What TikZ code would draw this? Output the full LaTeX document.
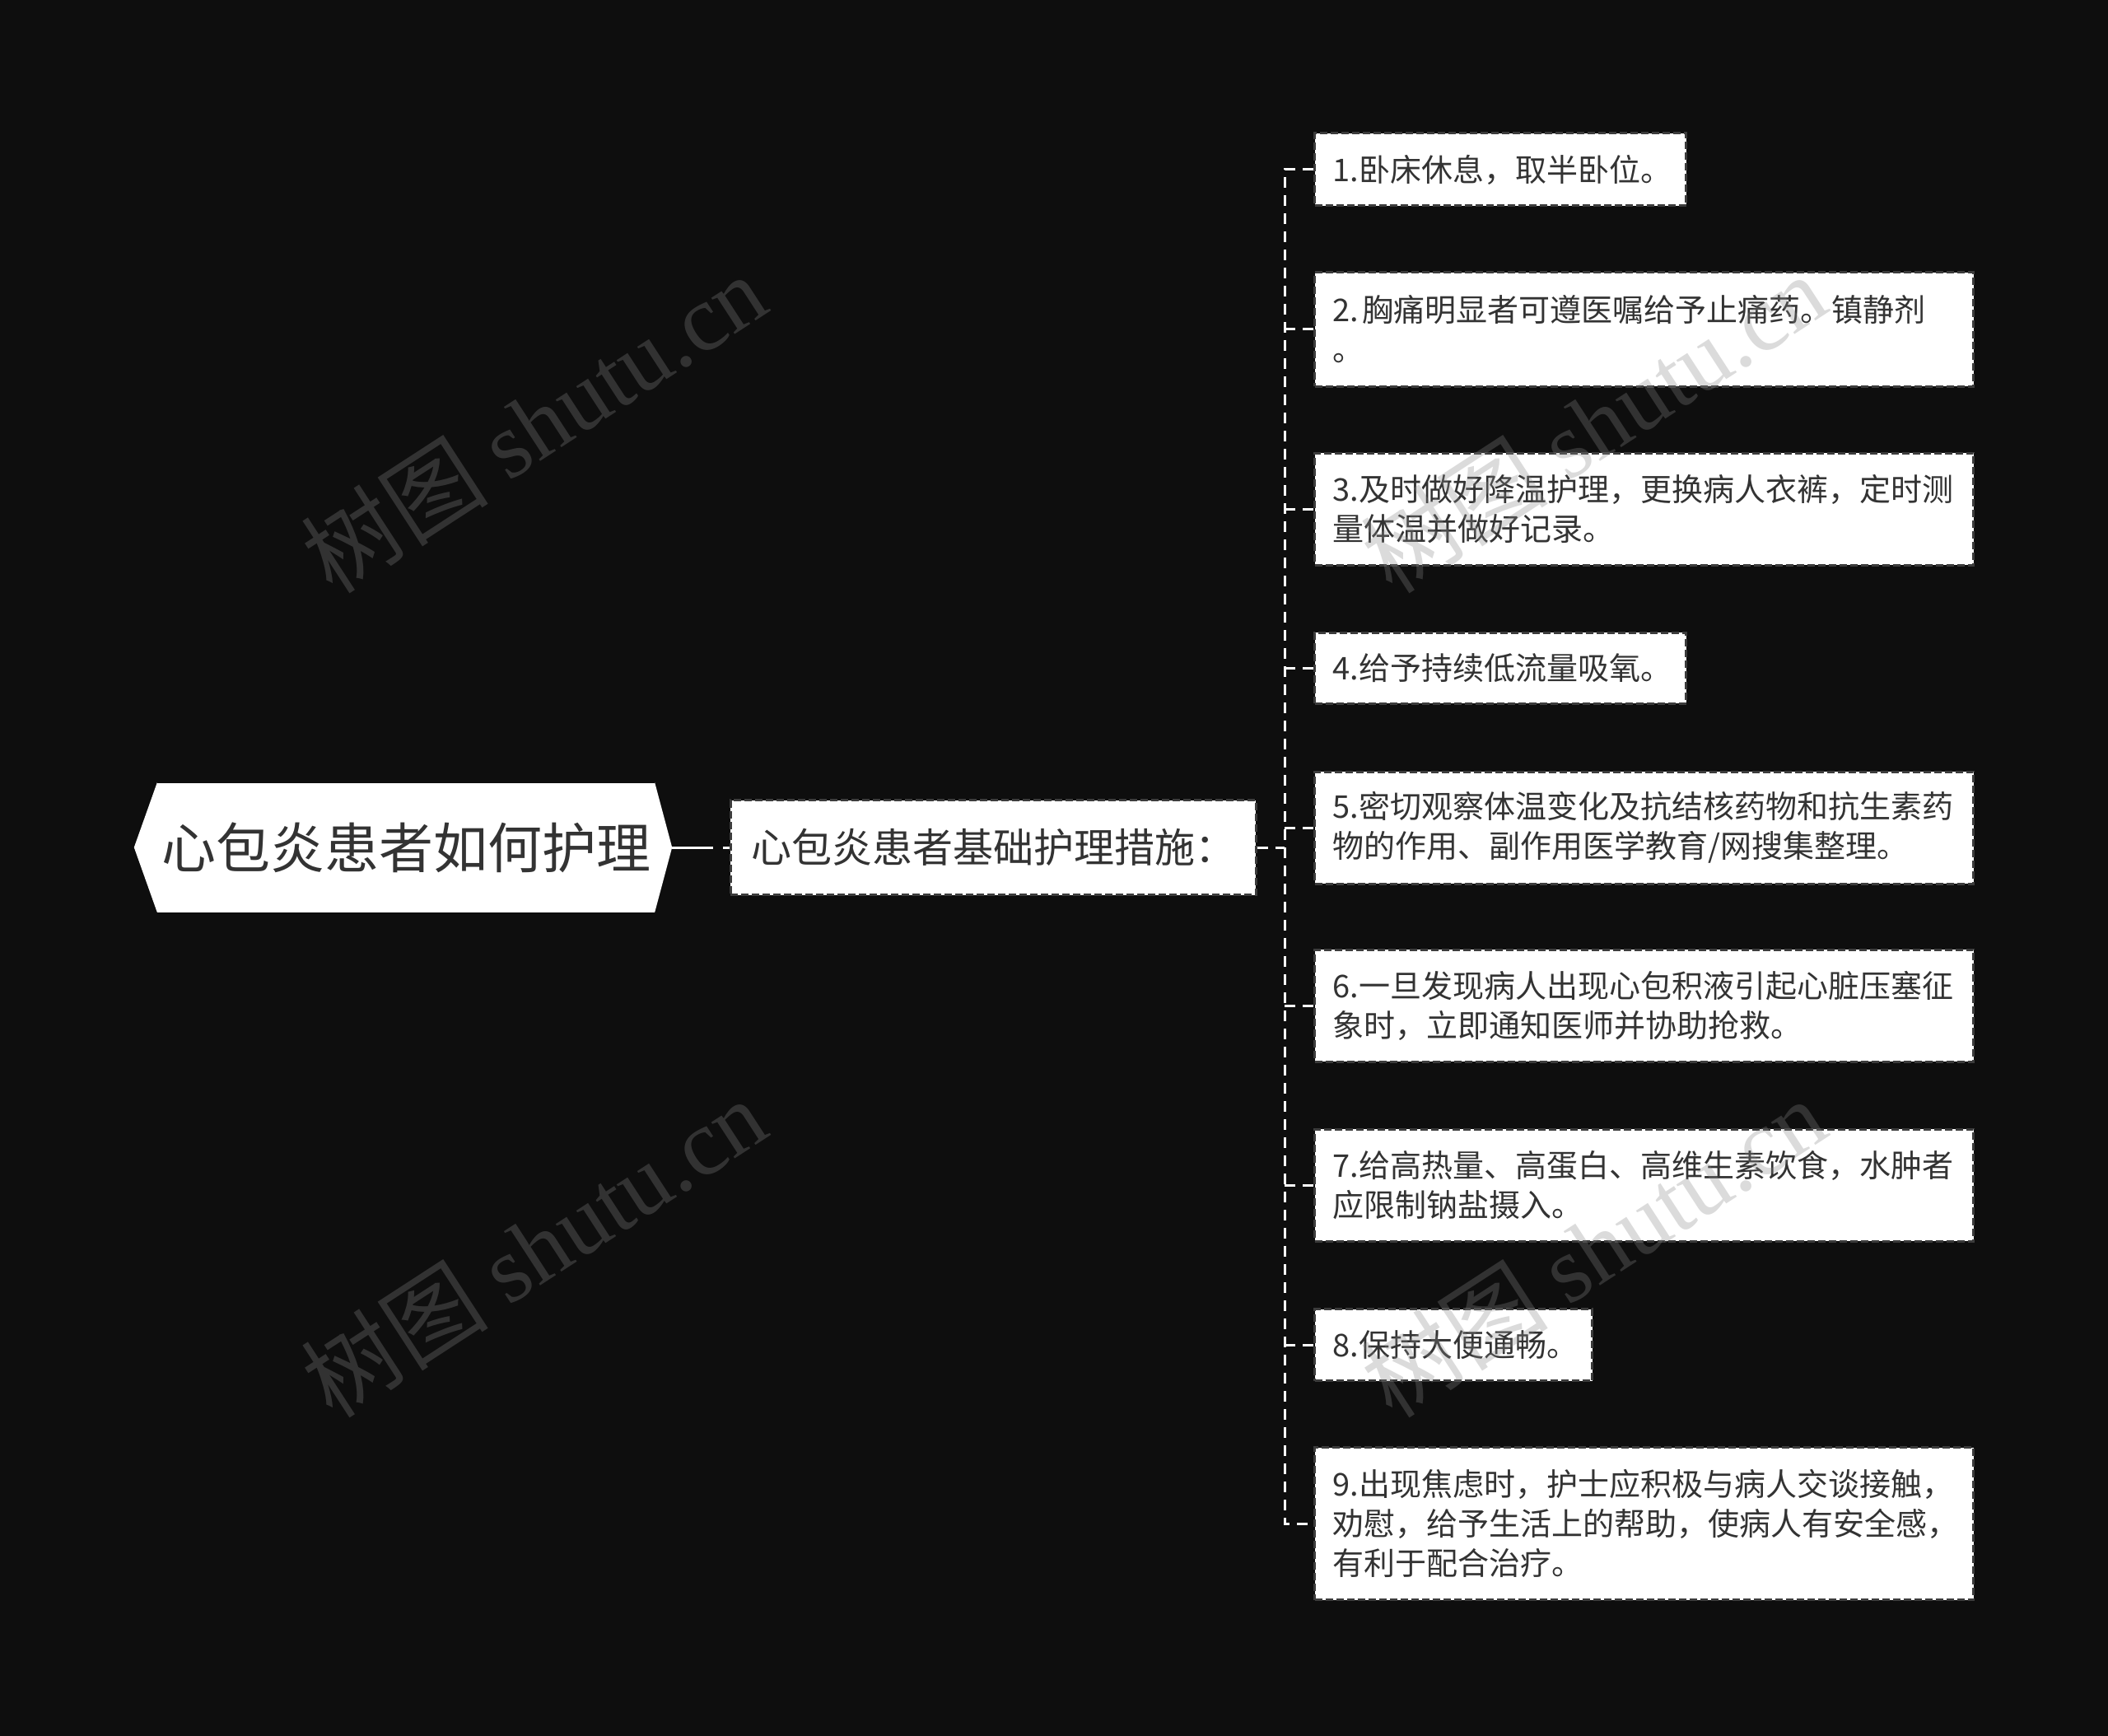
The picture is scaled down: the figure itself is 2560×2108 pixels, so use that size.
\documentclass[tikz,border=0pt]{standalone}
\usepackage{fontspec}
\newfontfamily\cjk{Noto Sans CJK SC}
\newfontfamily\wmlat{Liberation Serif}
\definecolor{bg}{RGB}{14,14,14}
\definecolor{txt}{RGB}{51,51,51}
\definecolor{edge}{RGB}{60,60,60}
\definecolor{wmc}{RGB}{136,136,136}
\tikzset{
  conn/.style={draw=white, line width=3pt, dash pattern=on 13pt off 9pt},
  box/.style={draw=edge, fill=white, line width=3pt, dash pattern=on 9pt off 4pt, text=txt},
  leaf/.style={box, anchor=west, align=left, inner xsep=22pt, inner ysep=0pt,
    font=\cjk\fontsize{38}{48}\selectfont},
  midbox/.style={box, inner sep=0pt, font=\cjk\fontsize{49}{56}\selectfont},
  rootbox/.style={fill=white, inner sep=0pt, text=txt, font=\cjk\fontsize{66}{72}\selectfont},
  wm/.style={text=wmc, text opacity=0.3, rotate=33, inner sep=0pt}
}
\begin{document}
\begin{tikzpicture}[x=1pt, y=-1pt]
\useasboundingbox (0,0) rectangle (2560,2108);
\fill[bg] (0,0) rectangle (2560,2108);

% root
\node[rootbox, minimum width=604pt, minimum height=157pt] (root) at (493,1029) {心包炎患者如何护理};
\fill[white] (root.north west) -- ([xshift=-28pt]root.west) -- (root.south west) -- cycle;
\fill[white] (root.north east) -- ([xshift=21pt]root.east) -- (root.south east) -- cycle;

% middle
\node[midbox, minimum width=638pt, minimum height=115pt] (mid) at (1206,1029) {心包炎患者基础护理措施：};

% leaves
\node[leaf, text width=407pt, minimum height=88pt] (l1) at (1595,206) {1.卧床休息，取半卧位。};
\node[leaf, text width=756pt, minimum height=138pt] (l2) at (1595,400) {2.\hspace{0.12em}胸痛明显者可遵医嘱给予止痛药。镇静剂\\。};
\node[leaf, text width=756pt, minimum height=136pt] (l3) at (1595,618) {3.及时做好降温护理，更换病人衣裤，定时测\\量体温并做好记录。};
\node[leaf, text width=407pt, minimum height=86pt] (l4) at (1595,811) {4.给予持续低流量吸氧。};
\node[leaf, text width=756pt, minimum height=136pt] (l5) at (1595,1005) {5.密切观察体温变化及抗结核药物和抗生素药\\物的作用、副作用医学教育/网搜集整理。};
\node[leaf, text width=756pt, minimum height=136pt] (l6) at (1595,1221) {6.一旦发现病人出现心包积液引起心脏压塞征\\象时，立即通知医师并协助抢救。};
\node[leaf, text width=756pt, minimum height=136pt] (l7) at (1595,1439) {7.给高热量、高蛋白、高维生素饮食，水肿者\\应限制钠盐摄入。};
\node[leaf, text width=293pt, minimum height=87pt] (l8) at (1595,1633) {8.保持大便通畅。};
\node[leaf, text width=756pt, minimum height=185pt] (l9) at (1595,1850) {9.出现焦虑时，护士应积极与病人交谈接触，\\劝慰，给予生活上的帮助，使病人有安全感，\\有利于配合治疗。};

% connectors
\coordinate (sptop) at (1560,206);
\coordinate (spbot) at (1560,1850);
\draw[conn, dash pattern=on 50pt off 12pt] ([xshift=21pt]root.east) -- (mid.west);
\draw[conn] (mid.east) -- (mid.east -| sptop);
\draw[conn] (l1.west) -- (sptop) -- (spbot) -- (l9.west);
\foreach \k in {2,...,8} {\draw[conn] (sptop |- l\k.west) -- (l\k.west);}

% watermarks
\foreach \px/\py in {648/514,648/1515,1935/514,1935/1515} {
  \node[wm] at (\px,\py) {\fontsize{114}{120}\selectfont\cjk 树图 \wmlat shutu.cn};
}
\end{tikzpicture}
\end{document}
